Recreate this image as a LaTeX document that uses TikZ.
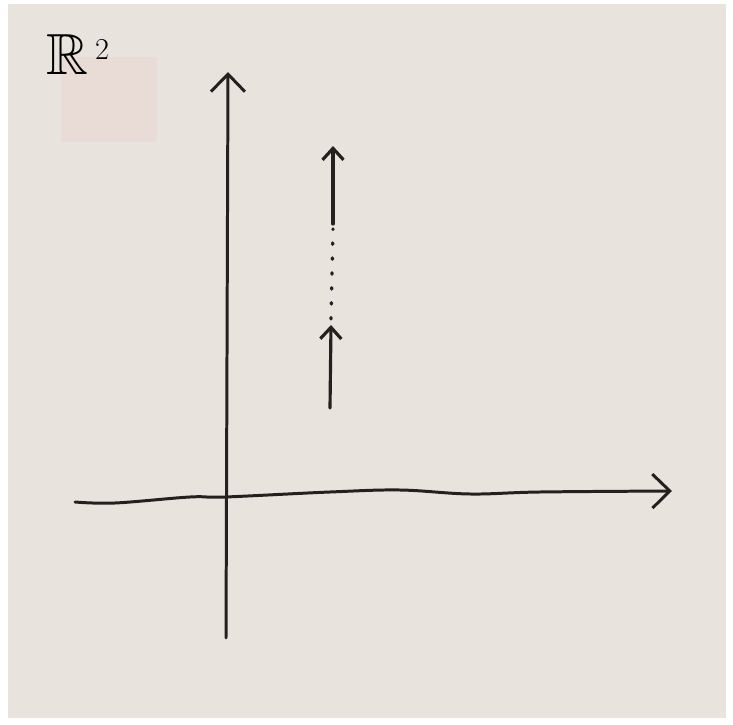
\documentclass[tikz,border=0pt]{standalone}
\usepackage{amsmath,amssymb}
\usepackage{xcolor}
\usepackage{tikz}
\usetikzlibrary{arrows.meta, positioning, calc}
\definecolor{paper}{RGB}{232,227,220}
\definecolor{ink}{RGB}{36,32,28}
\definecolor{blush}{RGB}{234,214,208}
\tikzstyle{axis} = [ink, line width=1.7pt, line cap=round,
-{Straight Barb[length=3.5mm, width=6.8mm, line width=1.7pt]}]
\tikzstyle{vec} = [ink, line width=1.8pt, line cap=round,
-{Straight Barb[length=2.3mm, width=4.2mm, line width=1.8pt]}]
\tikzstyle{dots} = [ink, line width=1.9pt, line cap=round,
dash pattern=on 0.8pt off 7.7pt]

\begin{document}
\begin{tikzpicture}
                % paper
                \fill[white] (0,0) rectangle (14.66,14.48);
                \fill[paper] (0.16,0.12) rectangle (14.52,14.40);
                \fill[blush, opacity=0.55] (1.22,11.64) rectangle (3.14,13.34);
                \useasboundingbox (0,0) rectangle (14.66,14.48);

                \node (space) at (1.56,13.38) {\fontsize{33}{36}\selectfont $\mathbb{R}^{\,\scriptscriptstyle 2}$};

                % axes
                \coordinate (ybot) at (4.52,1.72);
                \coordinate (ytop) at (4.56,13.04);
                \coordinate (xl) at (1.50,4.44);
                \coordinate (xr) at (13.44,4.66);
                \draw [axis] (ybot) -- (ytop);
                \draw [axis] plot[smooth, tension=0.6] coordinates {(xl) (2.3,4.42) (3.8,4.54) (4.5,4.54) (6.6,4.64) (8.0,4.68) (9.4,4.60) (10.8,4.64) (xr)};

                % vectors
                \coordinate (v1a) at (6.60,6.32);
                \coordinate (v1b) at (6.62,7.98);
                \coordinate (d1) at (6.62,8.10);
                \coordinate (d2) at (6.66,9.90);
                \coordinate (v2a) at (6.66,10.00);
                \coordinate (v2b) at (6.66,11.56);
                \draw [vec] (v1a) -- (v1b);
                \draw [dots] (d1) -- (d2);
                \draw [vec] (v2a) -- (v2b);
            \end{tikzpicture}
\end{document}
